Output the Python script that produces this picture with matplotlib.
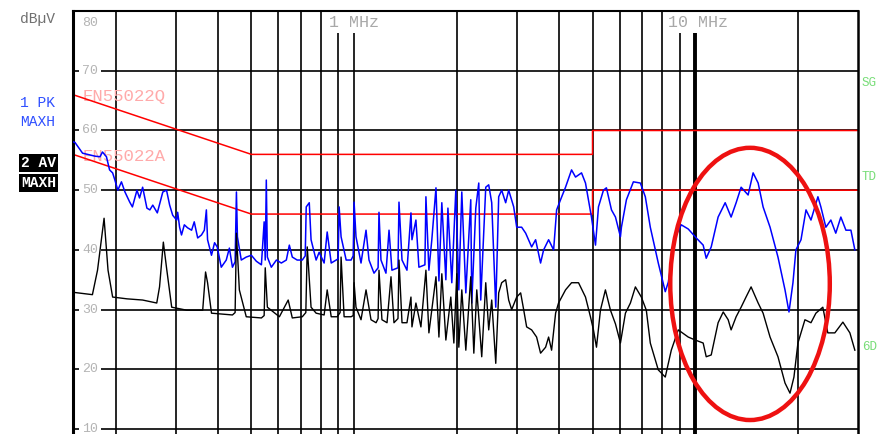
import matplotlib
matplotlib.use("Agg")
import matplotlib.pyplot as plt
from matplotlib.patches import Ellipse

# frequencies in MHz, levels in dBuV
pk_f = [0.150, 0.152, 0.160, 0.174, 0.180, 0.183, 0.188, 0.192, 0.196, 0.199, 0.203, 0.208, 0.213,
        0.220, 0.224, 0.231, 0.235, 0.240, 0.247, 0.252, 0.257, 0.265, 0.275, 0.282, 0.288, 0.294,
        0.302, 0.304, 0.308, 0.312, 0.318, 0.325, 0.334, 0.340, 0.348, 0.357, 0.364, 0.369, 0.372,
        0.382, 0.390, 0.397, 0.408, 0.422, 0.431, 0.440, 0.448, 0.452, 0.455, 0.467, 0.483, 0.500,
        0.517, 0.535, 0.545, 0.549, 0.553, 0.557, 0.572, 0.592, 0.612, 0.633, 0.646, 0.659, 0.681,
        0.705, 0.719, 0.724, 0.739, 0.748, 0.774, 0.790, 0.817, 0.834, 0.857, 0.886, 0.898, 0.904,
        0.916, 0.948, 0.980, 0.994, 1.000, 1.013, 1.048, 1.084, 1.106, 1.144, 1.176, 1.183, 1.199,
        1.240, 1.266, 1.291, 1.345, 1.354, 1.382, 1.429, 1.468, 1.478, 1.518, 1.549, 1.613, 1.624,
        1.657, 1.690, 1.738, 1.773, 1.808, 1.858, 1.884, 1.934, 1.987, 2.028, 2.069, 2.126, 2.198,
        2.213, 2.274, 2.320, 2.351, 2.432, 2.481, 2.532, 2.602, 2.654, 2.708, 2.782, 2.839, 2.937,
        2.997, 3.099, 3.184, 3.315, 3.405, 3.521, 3.594, 3.717, 3.845, 3.924, 4.029, 4.167, 4.340,
        4.458, 4.642, 4.768, 4.864, 4.964, 5.101, 5.204, 5.382, 5.491, 5.682, 5.837, 6.036, 6.077,
        6.285, 6.587, 6.905, 7.140, 7.384, 7.793, 8.169, 8.338, 8.740, 9.100, 9.539, 10.07, 10.55,
        10.77, 11.14, 11.67, 12.24, 12.74, 13.18, 13.63, 14.29, 14.78, 15.29, 15.81, 16.57, 17.48,
        18.33, 18.83, 19.34, 19.73, 20.42, 21.12, 21.84, 22.89, 23.35, 24.15, 24.98, 25.82, 26.72,
        27.65, 28.60, 29.37]
pk_db = [58.1, 58.0, 56.2, 55.7, 55.6, 56.4, 55.6, 53.4, 52.9, 51.7, 50.0, 51.4, 49.7,
         48.0, 47.2, 50.0, 48.7, 50.5, 47.0, 46.7, 47.5, 46.2, 49.7, 50.0, 47.5, 45.8,
         45.0, 46.3, 43.8, 42.5, 44.2, 43.7, 43.3, 44.7, 42.0, 42.5, 43.3, 46.7, 41.7,
         39.1, 41.2, 40.5, 37.1, 38.3, 40.3, 37.1, 38.0, 49.7, 42.2, 38.3, 38.8, 39.1,
         38.1, 37.5, 44.7, 38.3, 51.7, 38.8, 37.1, 38.3, 37.8, 38.3, 40.8, 38.8, 38.3,
         38.3, 39.0, 47.2, 47.9, 41.7, 38.3, 39.6, 37.8, 43.0, 37.8, 38.3, 38.5, 47.2,
         42.2, 38.3, 38.3, 39.0, 48.0, 42.2, 37.8, 43.3, 38.3, 36.1, 37.0, 46.3, 38.3,
         36.1, 43.3, 36.6, 37.0, 48.0, 38.3, 36.6, 46.2, 41.7, 45.0, 37.1, 37.5, 48.9,
         36.6, 41.7, 50.4, 34.8, 47.9, 35.0, 47.0, 34.5, 50.0, 33.3, 49.7, 32.8, 48.4,
         31.1, 47.0, 51.2, 31.6, 50.5, 50.9, 47.9, 30.4, 48.9, 50.0, 47.9, 50.0, 47.2,
         43.8, 43.8, 42.8, 40.5, 41.7, 37.8, 40.0, 41.7, 40.0, 46.7, 48.4, 50.5, 53.4,
         52.2, 52.9, 51.2, 48.4, 45.5, 40.8, 47.2, 50.0, 50.4, 46.7, 45.5, 42.2, 43.8,
         48.4, 51.4, 51.2, 48.9, 43.8, 37.8, 33.0, 34.6, 42.2, 44.2, 43.5, 42.0, 40.8,
         38.6, 40.5, 45.5, 47.9, 45.5, 47.9, 50.5, 49.2, 52.9, 51.2, 47.2, 43.8, 38.8,
         33.3, 29.6, 34.5, 40.0, 41.7, 46.7, 45.0, 48.9, 47.2, 43.8, 45.0, 42.8, 45.5,
         43.3, 43.3, 40.0]

av_f = [0.150, 0.171, 0.177, 0.185, 0.190, 0.196, 0.216, 0.240, 0.264, 0.269, 0.276, 0.282, 0.292,
        0.323, 0.360, 0.367, 0.372, 0.382, 0.440, 0.448, 0.452, 0.461, 0.483, 0.535, 0.545, 0.549,
        0.557, 0.604, 0.641, 0.659, 0.705, 0.722, 0.729, 0.748, 0.774, 0.817, 0.834, 0.857, 0.892,
        0.910, 0.916, 0.935, 0.980, 0.994, 1.000, 1.013, 1.048, 1.084, 1.121, 1.160, 1.176, 1.183,
        1.207, 1.249, 1.283, 1.309, 1.345, 1.354, 1.382, 1.429, 1.468, 1.478, 1.518, 1.570, 1.624,
        1.657, 1.738, 1.773, 1.808, 1.858, 1.921, 1.961, 2.000, 2.028, 2.069, 2.126, 2.198, 2.244,
        2.289, 2.367, 2.432, 2.481, 2.532, 2.602, 2.654, 2.708, 2.782, 2.839, 2.897, 2.997, 3.078,
        3.141, 3.205, 3.315, 3.428, 3.521, 3.643, 3.717, 3.793, 3.897, 3.975, 4.167, 4.340, 4.549,
        4.768, 4.930, 5.031, 5.135, 5.274, 5.454, 5.643, 5.837, 6.036, 6.243, 6.456, 6.677, 6.951,
        7.188, 7.384, 7.793, 8.169, 8.508, 8.917, 9.539, 10.00, 10.55, 10.77, 11.14, 11.67, 12.08,
        12.49, 12.74, 13.18, 13.63, 14.09, 14.58, 15.29, 15.81, 16.57, 17.48, 18.33, 18.96, 19.47,
        20.00, 20.97, 21.84, 22.58, 23.66, 24.47, 25.66, 27.09, 28.40, 29.37]
av_db = [32.9, 32.5, 36.6, 45.3, 36.6, 32.1, 31.8, 31.6, 31.1, 33.8, 41.3, 37.0, 30.4,
         29.9, 29.9, 36.3, 34.5, 29.4, 29.1, 29.5, 42.8, 33.3, 28.8, 28.6, 29.0, 37.0,
         30.4, 28.8, 31.6, 28.6, 28.8, 29.5, 40.5, 30.4, 29.4, 29.1, 33.3, 28.8, 28.8,
         29.5, 38.8, 28.8, 28.8, 29.0, 34.5, 30.4, 28.3, 33.3, 28.3, 27.8, 28.5, 36.6,
         28.3, 27.8, 35.5, 27.8, 28.5, 38.3, 27.8, 27.8, 32.1, 27.1, 31.1, 27.1, 36.6,
         26.1, 35.5, 25.4, 36.0, 24.9, 32.1, 24.4, 36.0, 23.7, 33.3, 23.2, 35.5, 22.7,
         33.3, 22.1, 34.5, 26.6, 31.6, 21.0, 32.8, 34.5, 35.0, 31.6, 30.0, 32.1, 32.8,
         30.0, 27.1, 26.6, 25.4, 22.7, 23.7, 25.4, 23.2, 29.4, 31.1, 33.3, 34.5, 34.5,
         32.1, 28.8, 26.6, 23.7, 29.9, 33.3, 29.9, 27.6, 24.4, 29.4, 31.1, 33.8, 32.1,
         29.9, 24.4, 19.9, 18.7, 23.2, 26.6, 25.4, 24.9, 24.4, 22.1, 22.4, 27.8, 29.6,
         28.3, 26.6, 28.8, 30.4, 32.1, 33.8, 31.1, 29.4, 25.4, 22.1, 17.7, 16.0, 18.7,
         24.4, 28.3, 27.8, 29.4, 30.4, 26.1, 26.1, 27.9, 26.1, 23.2]

# EN55022 limit lines
limQ_f = [0.15, 0.5, 5.0, 5.0, 30.0]
limQ_db = [66, 56, 56, 60, 60]
limA_f = [0.15, 0.5, 5.0, 5.0, 30.0]
limA_db = [56, 46, 46, 50, 50]

grid_f = [0.2, 0.3, 0.4, 0.5, 0.6, 0.7, 0.8, 0.9, 1, 2, 3, 4, 5, 6, 7, 8, 9, 10, 20]
levels = [80, 70, 60, 50, 40, 30, 20, 10]

# highlighted region (ellipse)
hl_f = [8.45, 24.8]
hl_db = [11.5, 57.1]

mono = "Liberation Mono"

fig = plt.figure(figsize=(8.78, 4.34), dpi=100)
ax = fig.add_axes([73/878, 0, 785/878, 1 - 11.1/434])
ax.set_xscale("log")
ax.set_xlim(0.15, 30)
ax.set_ylim(9.16, 80)
ax.xaxis.set_minor_locator(matplotlib.ticker.NullLocator())
ax.set_xticks(grid_f)
ax.set_yticks(levels)
ax.tick_params(which="both", length=0, labelleft=False, labelbottom=False)
ax.set_axisbelow(True)
ax.grid(True, color="black", lw=1.2)
ax.axvline(10, color="black", lw=2.8, zorder=1)

ax.spines["bottom"].set_visible(False)
ax.spines["left"].set_linewidth(2.2)
ax.spines["top"].set_linewidth(1.5)
ax.spines["right"].set_linewidth(1.8)

ax.plot(limQ_f, limQ_db, color="#ff0000", lw=1.1, zorder=2.5)
ax.plot(limA_f, limA_db, color="#ff0000", lw=1.1, zorder=2.5)
ax.plot(pk_f, pk_db, color="#0000ff", lw=1.1, zorder=3)
ax.plot(av_f, av_db, color="black", lw=1.0, zorder=3.2)

# level labels inside the plot
for v in levels:
    dy = -8.6 if v == 80 else 0
    ax.annotate(str(v), xy=(0, v), xycoords=("axes fraction", "data"),
                xytext=(6.5, dy), textcoords="offset points", ha="left", va="center",
                fontsize=9.5, family=mono, color="#b4b4b4", zorder=2,
                bbox=dict(boxstyle="square,pad=0.25", fc="white", ec="none"))

# frequency labels at the top
for f, lab, dx in [(0.9, "1 MHz", -6.5), (9.0, "10 MHz", -8.6)]:
    ax.annotate(lab, xy=(f, 1), xycoords=("data", "axes fraction"),
                xytext=(dx, -8), textcoords="offset points", ha="left", va="center",
                fontsize=12, family=mono, color="#a8a8a8", zorder=2,
                bbox=dict(boxstyle="square,pad=0.2", fc="white", ec="none"))

ax.text(0.1605, 65.7, "EN55022Q", fontsize=12.5, family=mono, color="#ffaaaa", va="center", zorder=2)
ax.text(0.1605, 55.7, "EN55022A", fontsize=12.5, family=mono, color="#ffaaaa", va="center", zorder=2)

# trace labels on the left
fig.text(20/878, 1 - 19/434, "dBµV", fontsize=10.5, family=mono, color="#707070", va="center")
fig.text(20/878, 1 - 103/434, "1 PK", fontsize=10.5, family=mono, color="#3050ff", va="center")
fig.text(20/878, 1 - 122/434, "MAXH", fontsize=10.5, family=mono, color="#3050ff", va="center")
fig.text(21/878, 1 - 163/434, "2 AV", fontsize=10.5, family=mono, color="white", va="center",
         weight="bold", bbox=dict(boxstyle="square,pad=0.15", fc="black", ec="none"))
fig.text(21/878, 1 - 183/434, "MAXH", fontsize=10.5, family=mono, color="white", va="center",
         weight="bold", bbox=dict(boxstyle="square,pad=0.15", fc="black", ec="none"))

# right side markers
for y, lab in [(83, "SG"), (177, "TD"), (347, "6D")]:
    fig.text(862/878, 1 - y/434, lab, fontsize=9, family=mono, color="#77dd77", va="center")

# red ellipse around the high band
tr = ax.transData + ax.transAxes.inverted()
x0, y0 = tr.transform((hl_f[0], hl_db[0]))
x1, y1 = tr.transform((hl_f[1], hl_db[1]))
ax.add_patch(Ellipse(((x0 + x1) / 2, (y0 + y1) / 2), x1 - x0, y1 - y0, transform=ax.transAxes,
                     fill=False, ec="#ee1111", lw=3.2, zorder=4, clip_on=False))

fig.savefig("out.png", dpi=100)
